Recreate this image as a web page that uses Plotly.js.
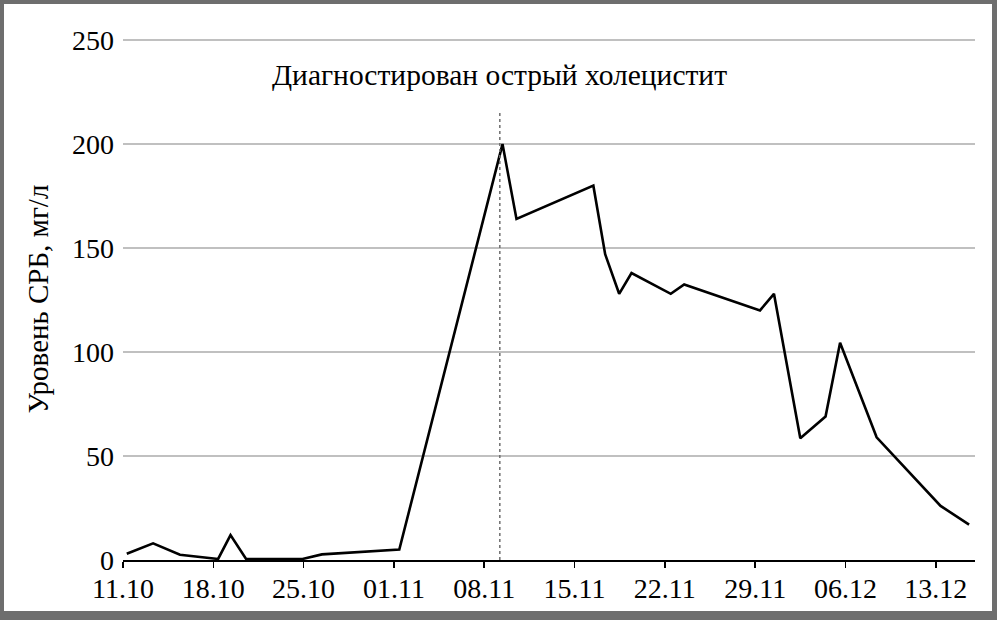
<!DOCTYPE html>
<html>
<head>
<meta charset="utf-8">
<script src="https://cdn.plot.ly/plotly-3.0.1.min.js"></script>
<style>
  html, body { margin: 0; padding: 0; background: #6e6e6e; width: 997px; height: 620px; overflow: hidden; }
  #chart { position: absolute; left: 4px; top: 4px; width: 988px; height: 607px; background: #ffffff; }
</style>
</head>
<body>
<div id="chart"></div>
<script>
// Sampling times
const dates = [
  '2023-10-11 07:00', '2023-10-13 08:00', '2023-10-15 10:00', '2023-10-18 09:00',
  '2023-10-19 08:00', '2023-10-20 13:00', '2023-10-24 22:00', '2023-10-26 10:00',
  '2023-11-01 10:00', '2023-11-09 10:00', '2023-11-10 12:00', '2023-11-16 11:00',
  '2023-11-17 09:00', '2023-11-18 11:00', '2023-11-19 10:00', '2023-11-22 11:00',
  '2023-11-23 12:00', '2023-11-29 09:00', '2023-11-30 11:00', '2023-12-02 12:00',
  '2023-12-04 11:00', '2023-12-05 14:00', '2023-12-08 10:00', '2023-12-13 09:00',
  '2023-12-15 14:00'
];
// CRP level, mg/L
const crp = [
  3, 8, 2.5, 0.5,
  12, 0.5, 0.5, 2.7,
  5, 200, 164, 180,
  147, 128, 138, 128,
  132.5, 120, 128, 58.5,
  69, 104.5, 59, 26,
  17
];
const tickDates = ['2023-10-11', '2023-10-18', '2023-10-25', '2023-11-01', '2023-11-08',
                   '2023-11-15', '2023-11-22', '2023-11-29', '2023-12-06', '2023-12-13'];
const tickLabels = ['11.10', '18.10', '25.10', '01.11', '08.11', '15.11', '22.11', '29.11', '06.12', '13.12'];
const yTicks = [0, 50, 100, 150, 200, 250];
const diagnosisDate = '2023-11-09 05:00';
const diagnosisText = 'Диагностирован острый холецистит';
const yTitle = 'Уровень СРБ, мг/л';

const font = '"Liberation Serif", "Times New Roman", serif';

Plotly.newPlot('chart', [{
  x: dates, y: crp, type: 'scatter', mode: 'lines',
  line: { color: '#000000', width: 2.6 },
  hoverinfo: 'skip'
}], {
  width: 988, height: 607,
  margin: { l: 119, r: 17, t: 34, b: 51, pad: 0 },
  paper_bgcolor: '#ffffff', plot_bgcolor: '#ffffff',
  showlegend: false,
  font: { family: font, color: '#000000', size: 28 },
  xaxis: {
    type: 'date',
    range: ['2023-10-11 00:00', '2023-12-16 01:00'],
    tickmode: 'array', tickvals: tickDates, ticktext: tickLabels,
    ticks: 'outside', ticklen: 6, tickwidth: 1.5, tickcolor: '#000000',
    showline: true, linecolor: '#000000', linewidth: 1.5,
    showgrid: false, zeroline: false,
    ticklabelstandoff: -3,
    tickfont: { family: font, size: 28, color: '#000000' }
  },
  yaxis: {
    range: [0, 251],
    tickvals: yTicks,
    showgrid: true, gridcolor: '#c0c0c0', gridwidth: 1.5,
    zeroline: false, showline: false, ticks: '',
    ticklabelstandoff: 8,
    tickfont: { family: font, size: 28, color: '#000000' },
    title: { text: yTitle, font: { family: font, size: 29, color: '#000000' }, standoff: 14 }
  },
  shapes: [{
    type: 'line', xref: 'x', yref: 'y',
    x0: diagnosisDate, x1: diagnosisDate, y0: 0, y1: 216,
    line: { color: '#6e6e6e', width: 1.5, dash: 'dot' }
  }],
  annotations: [{
    xref: 'x', yref: 'y', x: diagnosisDate, y: 233,
    text: diagnosisText, showarrow: false,
    xanchor: 'center', yanchor: 'middle',
    font: { family: font, size: 29.5, color: '#000000' }
  }]
}, { staticPlot: true, displayModeBar: false });
</script>
</body>
</html>
